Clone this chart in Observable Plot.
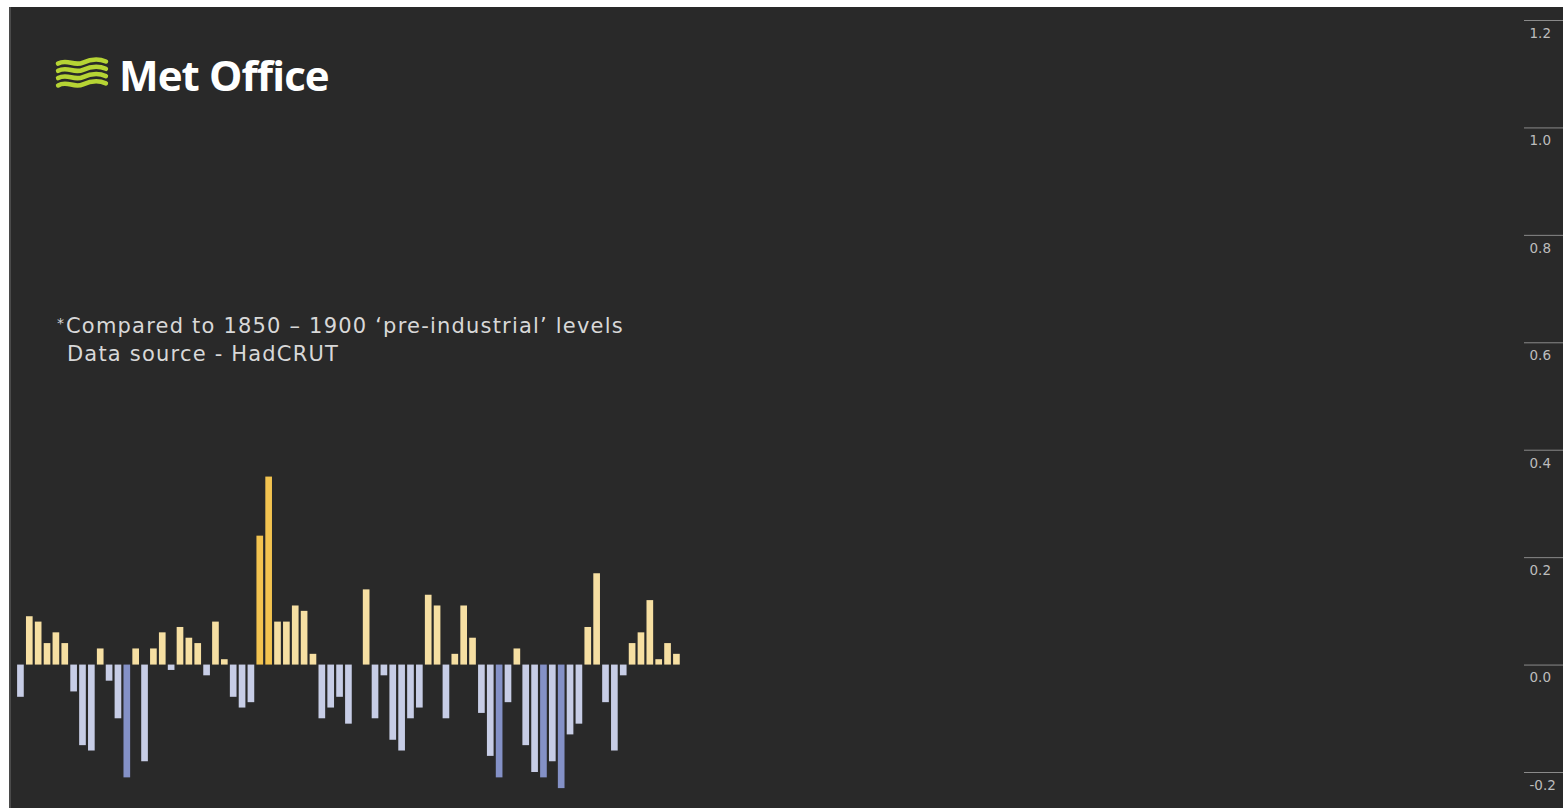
<!DOCTYPE html>
<html>
<head>
<meta charset="utf-8">
<script src="https://cdn.jsdelivr.net/npm/d3@7"></script>
<script src="https://cdn.jsdelivr.net/npm/@observablehq/plot@0.6"></script>
<style>
  html, body { margin: 0; padding: 0; background: #ffffff; }
  #panel {
    position: absolute; left: 9px; top: 7px; width: 1554px; height: 801px;
    background: #292929; overflow: hidden; border-left: 2px solid #4a4a4a; box-sizing: border-box;
  }
  #logo { position: absolute; left: 44px; top: 39px; display: flex; align-items: center; }
  #logo span {
    font-family: "Open Sans", Lato, sans-serif; font-weight: 700; font-size: 42px;
    color: #ffffff; letter-spacing: -0.9px; margin-left: 10px;
  }
  #note {
    position: absolute; left: 46px; top: 302px; color: #d8d8d8;
    font-family: "DejaVu Sans", sans-serif; font-size: 21px; line-height: 28px;
    letter-spacing: 1.2px;
  }
  #note .star { font-size: 14px; vertical-align: 5px; margin-right: 2px; letter-spacing: 0; }
  #note .indent { padding-left: 10px; }
  #chart { position: absolute; left: 0; top: 0; }
</style>
</head>
<body>
<div id="panel">
  <div id="logo">
    <svg width="54" height="36" viewBox="0 0 52 34">
      <g fill="none" stroke="#b6d434" stroke-width="4.4" stroke-linecap="round">
        <path d="M3 6 C12 1, 18 9, 27 5 S42 1, 49 4"/>
        <path d="M3 13 C12 8, 18 16, 27 12 S42 8, 49 11"/>
        <path d="M3 20 C12 15, 18 23, 27 19 S42 15, 49 18"/>
        <path d="M3 27 C12 22, 18 30, 27 26 S42 22, 49 25"/>
      </g>
    </svg>
    <span>Met Office</span>
  </div>
  <div id="note">
    <div><span class="star">*</span>Compared to 1850 – 1900 ‘pre-industrial’ levels</div>
    <div class="indent">Data source - HadCRUT</div>
  </div>
  <div id="chart"></div>
</div>
<script>
// Annual global temperature anomaly (°C) relative to 1850–1900, HadCRUT
const years = [
  1850, 1851, 1852, 1853, 1854, 1855, 1856, 1857, 1858, 1859,
  1860, 1861, 1862, 1863, 1864, 1865, 1866, 1867, 1868, 1869,
  1870, 1871, 1872, 1873, 1874, 1875, 1876, 1877, 1878, 1879,
  1880, 1881, 1882, 1883, 1884, 1885, 1886, 1887, 1888, 1889,
  1890, 1891, 1892, 1893, 1894, 1895, 1896, 1897, 1898, 1899,
  1900, 1901, 1902, 1903, 1904, 1905, 1906, 1907, 1908, 1909,
  1910, 1911, 1912, 1913, 1914, 1915, 1916, 1917, 1918, 1919,
  1920, 1921, 1922, 1923, 1924
];
const anomalies = [
  -0.06, 0.09, 0.08, 0.04, 0.06, 0.04, -0.05, -0.15, -0.16, 0.03,
  -0.03, -0.10, -0.21, 0.03, -0.18, 0.03, 0.06, -0.01, 0.07, 0.05,
  0.04, -0.02, 0.08, 0.01, -0.06, -0.08, -0.07, 0.24, 0.35, 0.08,
  0.08, 0.11, 0.10, 0.02, -0.10, -0.08, -0.06, -0.11, 0.00, 0.14,
  -0.10, -0.02, -0.14, -0.16, -0.10, -0.08, 0.13, 0.11, -0.10, 0.02,
  0.11, 0.05, -0.09, -0.17, -0.21, -0.07, 0.03, -0.15, -0.20, -0.21,
  -0.18, -0.23, -0.13, -0.11, 0.07, 0.17, -0.07, -0.16, -0.02, 0.04,
  0.06, 0.12, 0.01, 0.04, 0.02
];
// Full time axis of the series, and the right-hand axis ticks
const yearSpan = [1850, 2020];
const yTicks = [-0.2, 0.0, 0.2, 0.4, 0.6, 0.8, 1.0, 1.2];

const data = years.map((year, i) => ({year, anomaly: anomalies[i]}));

const chart = Plot.plot({
  width: 1552,
  height: 801,
  marginLeft: 5,
  marginRight: 40,
  marginTop: 13,
  marginBottom: 36,
  style: {background: "transparent", overflow: "visible"},
  x: {domain: yearSpan, axis: null},
  y: {domain: [-0.2, 1.2], axis: null},
  color: {
    type: "threshold",
    domain: [-0.205, 0, 0.2],
    range: ["#8491c7", "#c7cde6", "#f6dfa2", "#f2c350"]
  },
  marks: [
    Plot.rectY(data, {
      x: "year", interval: 1, y: "anomaly", fill: "anomaly",
      insetLeft: 1.1, insetRight: 1.1
    }),
    // tick lines running out to the right edge
    Plot.axisY(yTicks, {
      anchor: "right", tickSize: 40, tickFormat: () => "",
      stroke: "#8a8a8a", strokeWidth: 1, label: null
    }),
    // labels sitting just below each tick line
    Plot.axisY(yTicks, {
      anchor: "right", tickSize: 0, tickPadding: 6, dy: 13,
      textAnchor: "start", tickFormat: d => d.toFixed(1),
      fill: "#bdbdbd", fontSize: 13.5,
      fontFamily: "DejaVu Sans, sans-serif", label: null
    })
  ]
});
document.getElementById("chart").appendChild(chart);
</script>
</body>
</html>
